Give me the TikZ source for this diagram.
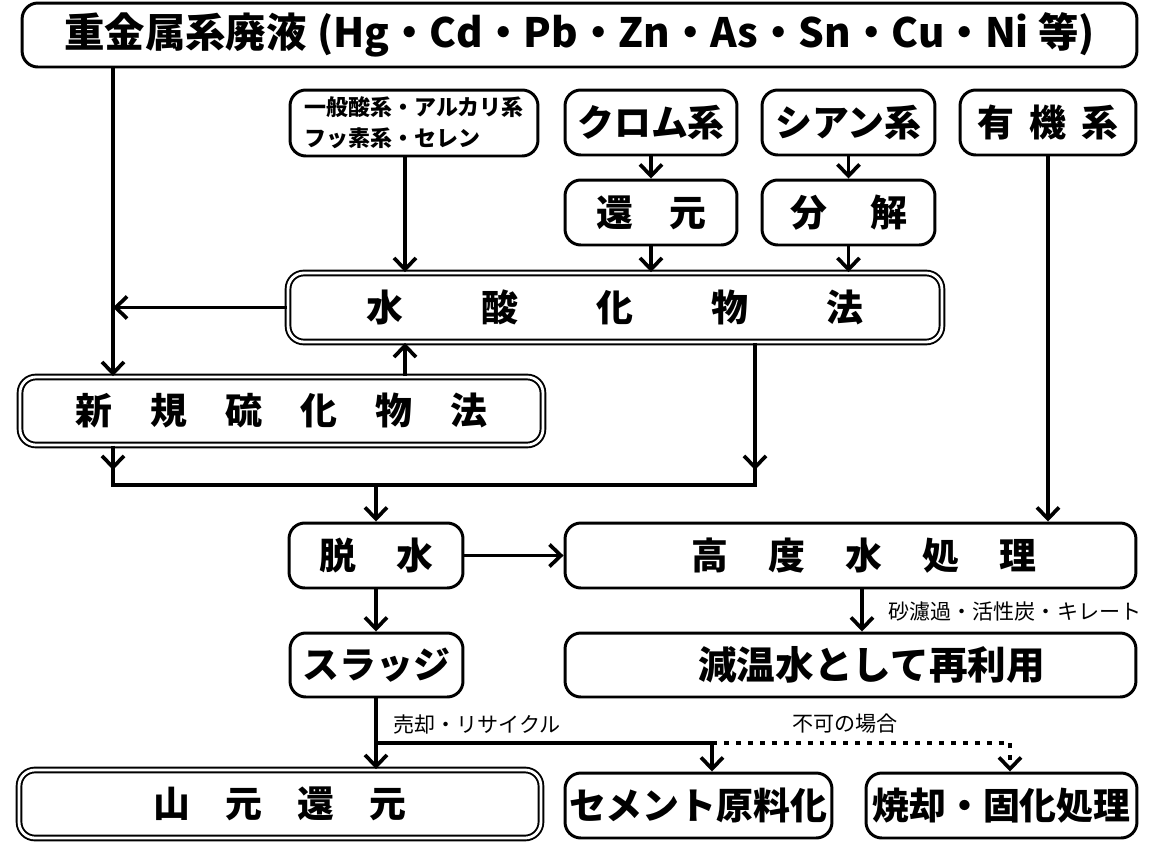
\documentclass[tikz,border=0pt]{standalone}
\usepackage{fontspec}
\setmainfont{Noto Sans CJK JP}[BoldFont={Noto Sans CJK JP Black}]
\usepackage{tikz}
\usetikzlibrary{arrows.meta}

\tikzset{
  box/.style={draw,line width=1.7pt,rounded corners=9pt,fill=white,inner sep=0pt,
    minimum height=1.3cm,font=\fontsize{21}{24}\selectfont\bfseries},
  dbox/.style={box,double,line width=1.1pt,double distance=1.6pt},
  line/.style={line width=2.1pt},
  tip/.style={-{Straight Barb[length=6.5pt,width=12.5pt,line width=2.1pt]}},
  arr/.style={line,tip},
  dots/.style={line width=2.8pt,dash pattern=on 2.8pt off 4pt},
  lbl/.style={inner sep=0pt,font=\fontsize{12}{14}\selectfont}
}

\begin{document}
\begin{tikzpicture}[x=0.02cm,y=-0.02cm]
    \useasboundingbox (0,0) rectangle (1161,846);
    % boxes
    \node[box,minimum width=22.3cm,minimum height=1.28cm,font=\fontsize{23}{27}\selectfont\bfseries] (waste) at (579.5,35)
      {重金属系廃液\hspace{6pt}(Hg・Cd・Pb・Zn・As・Sn・Cu・Ni 等)};
    \node[box,minimum width=4.96cm,minimum height=1.32cm,align=left,font=\fontsize{12.5}{17.5}\selectfont\bfseries] (acid) at (414,123)
      {一般酸系・アルカリ系\\フッ素系・セレン};
    \node[box,minimum width=3.44cm] (chrome) at (651,122.5) {クロム系};
    \node[box,minimum width=3.46cm] (cyan) at (848.5,122.5) {シアン系};
    \node[box,minimum width=3.52cm] (organic) at (1048,122.5) {有\hspace{8.6pt}機\hspace{8.6pt}系};
    \node[box,minimum width=3.44cm] (reduce) at (651,212.5) {還\hspace{20.5pt}元};
    \node[box,minimum width=3.46cm] (decomp) at (848.5,212.5) {分\hspace{24.5pt}解};
    \node[dbox,minimum width=13.08cm,minimum height=1.38cm] (hydrox) at (615,307.5)
      {水\hspace{44.5pt}酸\hspace{44.5pt}化\hspace{44.5pt}物\hspace{44.5pt}法};
    \node[dbox,minimum width=10.46cm,minimum height=1.36cm] (sulfide) at (281.5,411)
      {新\hspace{21.7pt}規\hspace{21.7pt}硫\hspace{21.7pt}化\hspace{21.7pt}物\hspace{21.7pt}法};
    \node[box,minimum width=3.48cm] (dewater) at (376,555.5) {脱\hspace{22.8pt}水};
    \node[box,minimum width=11.42cm] (advanced) at (850.5,555.5)
      {\hspace{15pt}高\hspace{22.8pt}度\hspace{22.8pt}水\hspace{22.8pt}処\hspace{22.8pt}理};
    \node[box,minimum width=3.46cm,minimum height=1.28cm] (sludge) at (376.5,665) {スラッジ};
    \node[box,minimum width=11.42cm,minimum height=1.28cm,font=\fontsize{22}{26}\selectfont\bfseries] (reuse) at (850.5,665)
      {\hspace{24pt}減温水として再利用};
    \node[dbox,minimum width=10.44cm,minimum height=1.36cm] (smelt) at (280,804)
      {山\hspace{20pt}元\hspace{20pt}還\hspace{20pt}元};
    \node[box,minimum width=5.34cm] (cement) at (698.5,805.5) {セメント原料化};
    \node[box,minimum width=5.42cm] (incin) at (1001.5,805.5) {焼却・固化処理};

    % lanes
    \coordinate (l1) at (113,0);
    \coordinate (l2) at (405,0);
    \coordinate (l3) at (755,0);
    \coordinate (l4) at (376,0);
    \coordinate (l5) at (862,0);
    \coordinate (l6) at (712,0);
    \coordinate (l7) at (1010,0);
    \coordinate (m0) at (0,470);
    \coordinate (m1) at (0,485);
    \coordinate (m2) at (0,743);

    % connectors
    \draw[arr] (waste.south -| l1) -- (sulfide.north -| l1);
    \draw[arr] (hydrox.west) -- (hydrox.west -| l1);
    \draw[arr] (acid.south -| l2) -- (hydrox.north -| l2);
    \draw[arr] (chrome.south) -- (reduce.north);
    \draw[arr] (cyan.south) -- (decomp.north);
    \draw[arr] (reduce.south) -- (hydrox.north -| reduce.south);
    \draw[arr] (decomp.south) -- (hydrox.north -| decomp.south);
    \draw[arr] (sulfide.north -| l2) -- (hydrox.south -| l2);
    \draw[arr] (organic.south) -- (advanced.north -| organic.south);
    \draw[line] (sulfide.south -| l1) |- (l3 |- m1) -- (hydrox.south -| l3);
    \draw[arr] (sulfide.south -| l1) -- (l1 |- m0);
    \draw[arr] (hydrox.south -| l3) -- (l3 |- m0);
    \draw[arr] (l4 |- m1) -- (dewater.north -| l4);
    \draw[arr] (dewater.east) -- (advanced.west);
    \draw[arr] (dewater.south -| l4) -- (sludge.north -| l4);
    \draw[arr] (advanced.south -| l5) -- (reuse.north -| l5);
    \draw[arr] (sludge.south -| l4) -- (smelt.north -| l4);
    \draw[line] (l4 |- m2) -- (l6 |- m2);
    \draw[arr] (l6 |- m2) -- (cement.north -| l6);
    \draw[dots] (l6 |- m2) -- (l7 |- m2);
    \draw[dots,tip] (l7 |- m2) -- (incin.north -| l7);

    % labels
    \node[lbl,anchor=west] (filter) at (888,611) {砂濾過・活性炭・キレート};
    \node[lbl,anchor=west] (sale) at (393,724) {売却・リサイクル};
    \node[lbl] (failed) at (845,724) {不可の場合};
\end{tikzpicture}
\end{document}
